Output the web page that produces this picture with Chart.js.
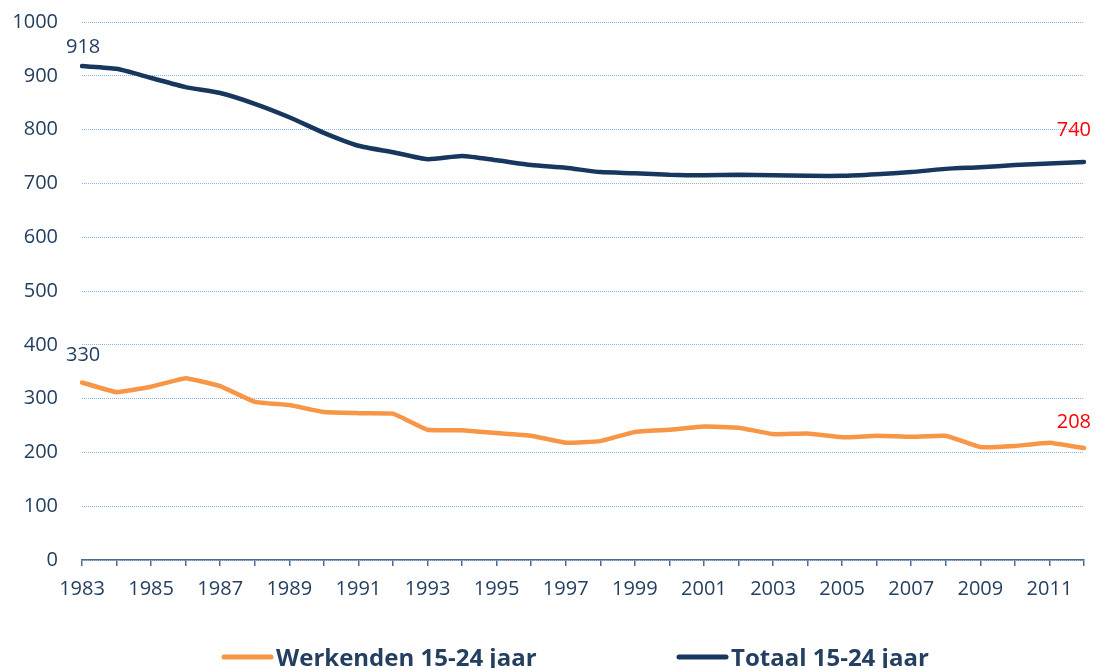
<!DOCTYPE html>
<html>
<head>
<meta charset="utf-8">
<script src="https://cdn.jsdelivr.net/npm/chart.js@4/dist/chart.umd.min.js"></script>
<style>
  html, body { margin: 0; padding: 0; background: #ffffff; }
  #wrap { width: 1095px; height: 668px; position: relative; }
</style>
</head>
<body>
<div id="wrap"><canvas id="c" width="1095" height="668"></canvas></div>
<script>
const years = ['1983','1984','1985','1986','1987','1988','1989','1990','1991','1992','1993','1994','1995','1996','1997','1998','1999','2000','2001','2002','2003','2004','2005','2006','2007','2008','2009','2010','2011','2012'];
const werkenden = [330,312,322,338,323,294,288,275,273,272,242,241,236,231,218,221,238,242,248,246,234,235,228,231,229,231,210,212,218,208];
const totaal = [918,913,896,879,868,848,823,794,770,758,745,751,743,734,729,721,719,716,715,716,715,714,714,717,721,727,730,734,737,740];
const seriesNames = ['Werkenden 15-24 jaar', 'Totaal 15-24 jaar'];
const yTicks = [0,100,200,300,400,500,600,700,800,900,1000];

const NAVY = '#17375e';
const ORANGE = '#f79646';
const TEXT = '#243f60';
const FONT = "'Open Sans', 'DejaVu Sans', sans-serif";

const labelsPlugin = {
  id: 'endLabels',
  afterDatasetsDraw(chart) {
    const ctx = chart.ctx;
    ctx.save();
    ctx.font = '20px ' + FONT;
    ctx.textBaseline = 'middle';
    chart.data.datasets.forEach((ds, i) => {
      const meta = chart.getDatasetMeta(i);
      const first = meta.data[0];
      const last = meta.data[meta.data.length - 1];
      const firstVal = ds.data[0];
      const lastVal = ds.data[ds.data.length - 1];
      ctx.fillStyle = TEXT;
      ctx.textAlign = 'left';
      const dyFirst = i === 1 ? -19 : -27;
      ctx.fillText(String(firstVal), first.x - 16, first.y + dyFirst);
      ctx.fillStyle = '#ff0000';
      ctx.textAlign = 'right';
      const dyLast = i === 1 ? -32 : -26;
      ctx.fillText(String(lastVal), last.x + 7, last.y + dyLast);
    });
    ctx.restore();
  }
};

const legendPlugin = {
  id: 'customLegend',
  afterDraw(chart) {
    const ctx = chart.ctx;
    ctx.save();
    ctx.font = 'bold 24px ' + FONT;
    ctx.textBaseline = 'middle';
    ctx.textAlign = 'left';
    const items = [
      { name: seriesNames[0], color: ORANGE, x: 224 },
      { name: seriesNames[1], color: NAVY, x: 679 }
    ];
    const y = 657;
    items.forEach(it => {
      ctx.strokeStyle = it.color;
      ctx.lineWidth = 5;
      ctx.lineCap = 'round';
      ctx.beginPath();
      ctx.moveTo(it.x, y);
      ctx.lineTo(it.x + 47, y);
      ctx.stroke();
      ctx.fillStyle = TEXT;
      ctx.fillText(it.name, it.x + 52, y + 2);
    });
    ctx.restore();
  }
};

new Chart(document.getElementById('c'), {
  type: 'line',
  data: {
    labels: years,
    datasets: [
      { label: seriesNames[0], data: werkenden, borderColor: ORANGE, backgroundColor: ORANGE, borderWidth: 4.5, pointRadius: 0, tension: 0.1, borderCapStyle: 'round', borderJoinStyle: 'round' },
      { label: seriesNames[1], data: totaal, borderColor: NAVY, backgroundColor: NAVY, borderWidth: 4.5, pointRadius: 0, tension: 0.2, borderCapStyle: 'round', borderJoinStyle: 'round' }
    ]
  },
  options: {
    responsive: false,
    animation: false,
    layout: { padding: { top: 22, right: 9, bottom: 68, left: 0 } },
    plugins: {
      legend: { display: false },
      tooltip: { enabled: false }
    },
    scales: {
      x: {
        offset: false,
        afterFit(scale) { scale.height = 40; },
        grid: { display: true, drawOnChartArea: false, drawTicks: true, tickLength: 6, color: '#4a6a8f', lineWidth: 1.5 },
        border: { display: true, color: '#4a6a8f', width: 1.5 },
        ticks: {
          autoSkip: false, maxRotation: 0, minRotation: 0, padding: 11,
          color: TEXT, font: { family: FONT, size: 20 },
          callback(v, i) { return i % 2 === 0 ? years[i] : ''; }
        }
      },
      y: {
        min: 0, max: 1000,
        afterFit(scale) { scale.width = 82; },
        afterBuildTicks(scale) { scale.ticks = yTicks.map(v => ({ value: v })); },
        grid: { color: '#8db4e2', lineWidth: 1, drawTicks: true, tickLength: 24, tickColor: 'rgba(0,0,0,0)' },
        border: { display: false, dash: [1, 1] },
        ticks: { padding: 0, color: TEXT, font: { family: FONT, size: 20 }, callback(v) { return String(v); } }
      }
    }
  },
  plugins: [labelsPlugin, legendPlugin]
});
</script>
</body>
</html>
